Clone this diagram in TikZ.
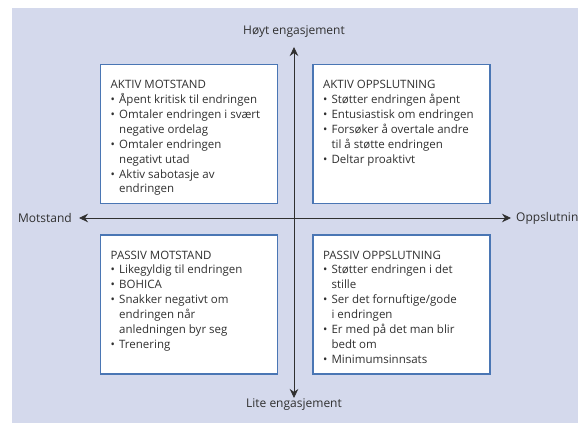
\documentclass[tikz,border=0pt]{standalone}
\usepackage{fontspec}
\setmainfont{Open Sans}
\usepackage{xcolor}
\usetikzlibrary{positioning, arrows.meta}

\definecolor{bakgrunn}{HTML}{D4D9EC}
\definecolor{ramme}{HTML}{4A76B4}
\definecolor{strek}{HTML}{303030}

\newcommand{\pkt}{\makebox[8.5pt][l]{\textbullet}}
\newcommand{\inn}{\hspace*{8.5pt}}
\newcommand{\boks}[1]{\parbox[c][112pt][t]{157pt}{\fontsize{11.5}{14.9}\selectfont
  \begin{tabular}[t]{@{}l@{}}#1\end{tabular}}}

\begin{document}
\begin{tikzpicture}[
      x=1pt, y=-1pt,
      node distance=30pt and 34pt,
      kvadrant/.style={
        draw=ramme,
        line width=1.4pt,
        fill=white,
        anchor=north west,
        minimum width=177pt,
        minimum height=139pt,
        inner xsep=10pt,
        inner ysep=12.3pt,
        text=strek
      },
      akse/.style={
        {Stealth[length=9pt,width=8.5pt]}-{Stealth[length=9pt,width=8.5pt]},
        line width=0.8pt,
        draw=strek
      },
      etikett/.style={
        text=strek,
        inner sep=0pt,
        font=\fontsize{12}{14}\selectfont
      }
    ]

    \useasboundingbox (0,0) rectangle (578,427);
    \fill[bakgrunn] (12,8) rectangle (590,423);

    \coordinate (topp) at (294,47);
    \coordinate (bunn) at (294,398);
    \coordinate (venstre) at (79,218);
    \coordinate (hoyre) at (511,218);

    \draw[akse] (bunn) -- (topp);
    \draw[akse] (venstre) -- (hoyre);

    \node[etikett] (hoyt) at (294,32) {Høyt engasjement};
    \node[etikett] (lite) at (294,405) {Lite engasjement};
    \node[etikett, anchor=east] (motstand) at (72,218) {Motstand};
    \node[etikett, anchor=west] (oppslutning) at (516,218) {Oppslutning};

    \node[kvadrant] (aktivmot) at (100,64) {\boks{
      AKTIV MOTSTAND\\
      \pkt Åpent kritisk til endringen\\
      \pkt Omtaler endringen i svært\\
      \inn negative ordelag\\
      \pkt Omtaler endringen\\
      \inn negativt utad\\
      \pkt Aktiv sabotasje av\\
      \inn endringen}};

    \node[kvadrant, right=of aktivmot.north east, anchor=north west] (aktivopp) {\boks{
      AKTIV OPPSLUTNING\\
      \pkt Støtter endringen åpent\\
      \pkt Entusiastisk om endringen\\
      \pkt Forsøker å overtale andre\\
      \inn til å støtte endringen\\
      \pkt Deltar proaktivt}};

    \node[kvadrant, below=of aktivmot.south west, anchor=north west] (passivmot) {\boks{
      PASSIV MOTSTAND\\
      \pkt Likegyldig til endringen\\
      \pkt BOHICA\\
      \pkt Snakker negativt om\\
      \inn endringen når\\
      \inn anledningen byr seg\\
      \pkt Trenering}};

    \node[kvadrant, right=of passivmot.north east, anchor=north west] (passivopp) {\boks{
      PASSIV OPPSLUTNING\\
      \pkt Støtter endringen i det\\
      \inn stille\\
      \pkt Ser det fornuftige/gode\\
      \inn i endringen\\
      \pkt Er med på det man blir\\
      \inn bedt om\\
      \pkt Minimumsinnsats}};

\end{tikzpicture}
\end{document}
